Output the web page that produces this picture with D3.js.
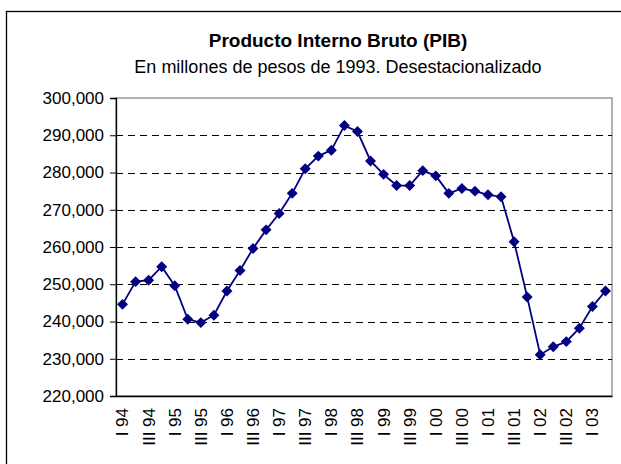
<!DOCTYPE html>
<html>
<head>
<meta charset="utf-8">
<script src="https://cdn.jsdelivr.net/npm/d3@7"></script>
<style>
  body { margin: 0; background: #fff; }
  text { font-family: "Liberation Sans", Arial, sans-serif; }
</style>
</head>
<body>
<script>
// quarters I 94 .. II 03
var quarters = [];
var romans = ["I", "II", "III", "IV"];
var years = ["94", "95", "96", "97", "98", "99", "00", "01", "02", "03"];
years.forEach(function(y) {
    romans.forEach(function(r) { quarters.push(r + " " + y); });
});
quarters = quarters.slice(0, 38);

var pib = [244600, 250700, 251100, 254700, 249600, 240600, 239700, 241700,
           248200, 253700, 259600, 264600, 269000, 274400, 281000, 284400,
           286000, 292600, 291000, 283100, 279500, 276500, 276500, 280500,
           279100, 274400, 275700, 275000, 274000, 273500, 261400, 246600,
           231100, 233200, 234600, 238200, 244000, 248200];

var yTicks = [220000, 230000, 240000, 250000, 260000, 270000, 280000, 290000, 300000];

var W = 621, H = 464;
var pLeft = 116, pRight = 612, pTop = 98, pBottom = 396;

var svg = d3.select("body").append("svg")
    .attr("width", W)
    .attr("height", H);

svg.append("rect")
    .attr("x", 6.5).attr("y", 11.5)
    .attr("width", 640).attr("height", 480)
    .attr("fill", "#fff")
    .attr("stroke", "#000")
    .attr("stroke-width", 1.3);

var x = d3.scaleBand().domain(quarters).range([pLeft, pRight]);
var y = d3.scaleLinear().domain([220000, 300000]).range([pBottom, pTop]);

// title
svg.append("text")
    .attr("x", 338).attr("y", 47)
    .attr("text-anchor", "middle")
    .attr("font-size", "19px")
    .attr("font-weight", "bold")
    .text("Producto Interno Bruto (PIB)");
svg.append("text")
    .attr("x", 338).attr("y", 73)
    .attr("text-anchor", "middle")
    .attr("font-size", "18px")
    .text("En millones de pesos de 1993. Desestacionalizado");

// plot frame (gray top/right)
svg.append("rect")
    .attr("x", pLeft).attr("y", pTop)
    .attr("width", pRight - pLeft).attr("height", pBottom - pTop)
    .attr("fill", "none")
    .attr("stroke", "#999")
    .attr("stroke-width", 1.5);

// gridlines
svg.selectAll("line.grid")
    .data(yTicks.filter(function(d) { return d > 220000 && d < 300000; }))
    .enter().append("line")
    .attr("class", "grid")
    .attr("x1", pLeft).attr("x2", pRight)
    .attr("y1", function(d) { return Math.round(y(d)) + 0.5; })
    .attr("y2", function(d) { return Math.round(y(d)) + 0.5; })
    .attr("stroke", "#000")
    .attr("stroke-width", 1)
    .attr("stroke-dasharray", "7,5");

// y axis
var yAxis = d3.axisLeft(y)
    .tickValues(yTicks)
    .tickFormat(d3.format(","))
    .tickSize(6)
    .tickPadding(6);
var gy = svg.append("g")
    .attr("transform", "translate(" + pLeft + ",0)")
    .call(yAxis);
gy.selectAll("text").attr("font-size", "17px").attr("fill", "#000")
    .attr("font-family", "'Liberation Sans', Arial, sans-serif");
gy.select(".domain").attr("stroke", "#000").attr("stroke-width", 1.3);

// x axis
var xAxis = d3.axisBottom(x)
    .tickValues(quarters.filter(function(d, i) { return i % 2 == 0; }))
    .tickSize(0)
    .tickPadding(0);
var gx = svg.append("g")
    .attr("transform", "translate(0," + pBottom + ")")
    .call(xAxis);
gx.select(".domain").attr("stroke", "#000").attr("stroke-width", 1.5);
gx.selectAll("text")
    .attr("font-size", "17px")
    .attr("fill", "#000")
    .attr("font-family", "'Liberation Sans', Arial, sans-serif")
    .attr("text-anchor", "end")
    .attr("dy", "0.35em")
    .attr("transform", "translate(0,12) rotate(-90)")
    .attr("y", 0)
    .attr("x", 0);

// line + markers
var line = d3.line()
    .x(function(d, i) { return x(quarters[i]) + x.bandwidth() / 2; })
    .y(function(d) { return y(d); });

svg.append("path")
    .datum(pib)
    .attr("d", line)
    .attr("fill", "none")
    .attr("stroke", "#000080")
    .attr("stroke-width", 1.8);

svg.selectAll("path.pt")
    .data(pib)
    .enter().append("path")
    .attr("class", "pt")
    .attr("d", d3.symbol().type(d3.symbolSquare).size(60))
    .attr("transform", function(d, i) {
        return "translate(" + (x(quarters[i]) + x.bandwidth() / 2) + "," + y(d) + ") rotate(45)";
    })
    .attr("fill", "#000080");
</script>
</body>
</html>
